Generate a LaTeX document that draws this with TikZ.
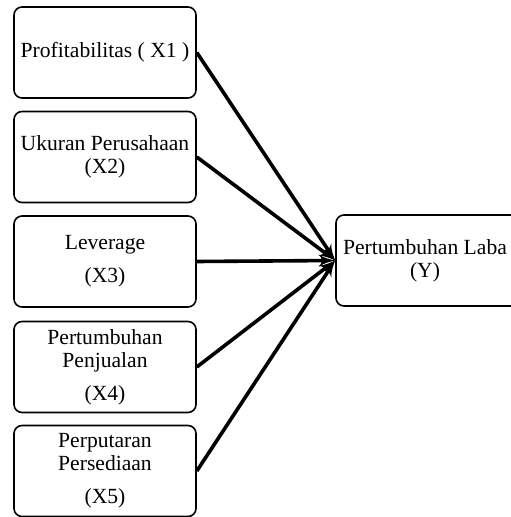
\documentclass[tikz,border=0pt]{standalone}
\usepackage{fontspec}
\setmainfont{Liberation Serif}
\usepackage{tikz}
\usetikzlibrary{arrows,positioning}

\tikzset{
	varbox/.style={draw,thick,rounded corners=4pt,minimum width=91pt,minimum height=45.5pt,inner sep=0pt,align=center,font=\fontsize{10.8}{11.5}\selectfont},
	link/.style={->,line width=1.8pt}
}

\begin{document}
\begin{tikzpicture}[>=latex',x=0.5pt,y=-0.5pt]
		\useasboundingbox (0,0) rectangle (510,517);
		\node[varbox] (x1) at (105,52.5) {Profitabilitas ( X1 )};
		\node[varbox] (x2) at (105,157) {Ukuran Perusahaan\\(X2)};
		\node[varbox] (x3) at (105,261.5) {Leverage\\[5pt](X3)};
		\node[varbox] (x4) at (105,367) {Pertumbuhan\\Penjualan\\[5pt](X4)};
		\node[varbox] (x5) at (105,471) {Perputaran\\Persediaan\\[5pt](X5)};
		\node[varbox,minimum width=95pt] (y) at (431,260.5) {\hspace*{-6pt}Pertumbuhan Laba\\\hspace*{-6pt}(Y)};
		\foreach \v in {x1,x2,x3,x4,x5}
			\draw[link] (\v.east) -- (y.west);
	\end{tikzpicture}
\end{document}
